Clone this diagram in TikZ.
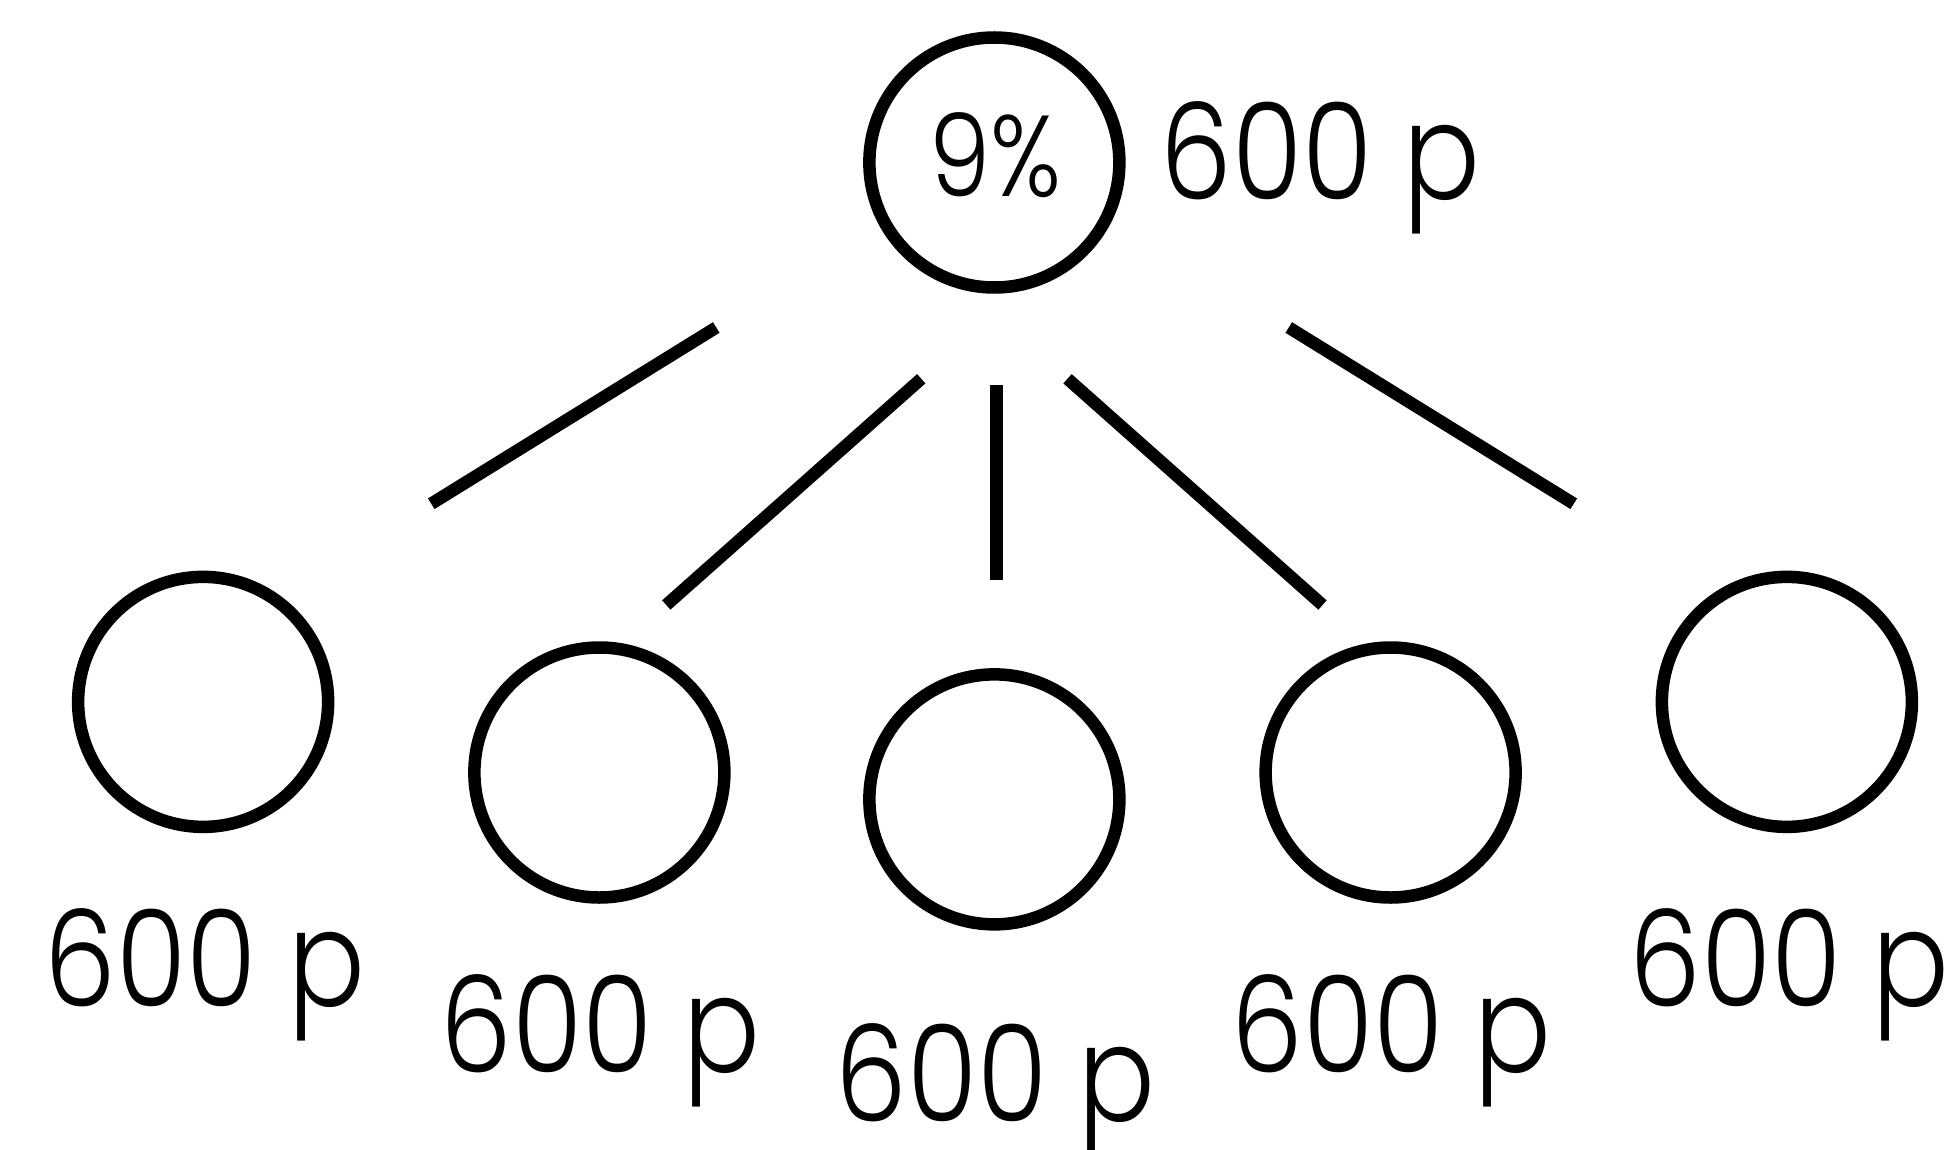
\documentclass[tikz,border=0pt]{standalone}
\usepackage{fontspec}
\setmainfont{Poppins}[UprightFont={* Light},FakeStretch=0.85]
\begin{document}
\begin{tikzpicture}[x=0.5pt,y=-0.5pt,
  ring/.style={circle,draw=black,line width=5pt,minimum size=100pt,inner sep=0pt},
  link/.style={draw=black,line width=5pt,line cap=butt},
  lab/.style={anchor=base,inner sep=0pt,font=\fontsize{53.6}{60}\selectfont},
  pct/.style={anchor=base,inner sep=0pt,font=\fontsize{46}{52}\selectfont}]
\useasboundingbox (0,0) rectangle (1568,920);
\node[ring] (top) at (795.5,130) {};
\node[pct] (topt) at (796.5,157) {9\%};
\node[lab] (topl) at (1056.5,160) {600 p};
\node[ring] (c1) at (162.5,561.5) {};
\node[ring] (c2) at (479.5,618) {};
\node[ring] (c3) at (795.5,639.5) {};
\node[ring] (c4) at (1112.5,618) {};
\node[ring] (c5) at (1429.5,561.5) {};
\node[lab] (l1) at (164,805) {600 p};
\node[lab] (l2) at (480.5,858) {600 p};
\node[lab] (l3) at (796.5,897) {600 p};
\node[lab] (l4) at (1113.5,858) {600 p};
\node[lab] (l5) at (1431.5,805) {600 p};
\coordinate (a1) at (573,262); \coordinate (b1) at (345,403);
\coordinate (a2) at (737,303); \coordinate (b2) at (533,484);
\coordinate (a3) at (797,308); \coordinate (b3) at (797,464);
\coordinate (a4) at (854,303); \coordinate (b4) at (1058,484);
\coordinate (a5) at (1031,262); \coordinate (b5) at (1259,403);
\draw[link] (a1) -- (b1);
\draw[link] (a2) -- (b2);
\draw[link] (a3) -- (b3);
\draw[link] (a4) -- (b4);
\draw[link] (a5) -- (b5);
\end{tikzpicture}
\end{document}
